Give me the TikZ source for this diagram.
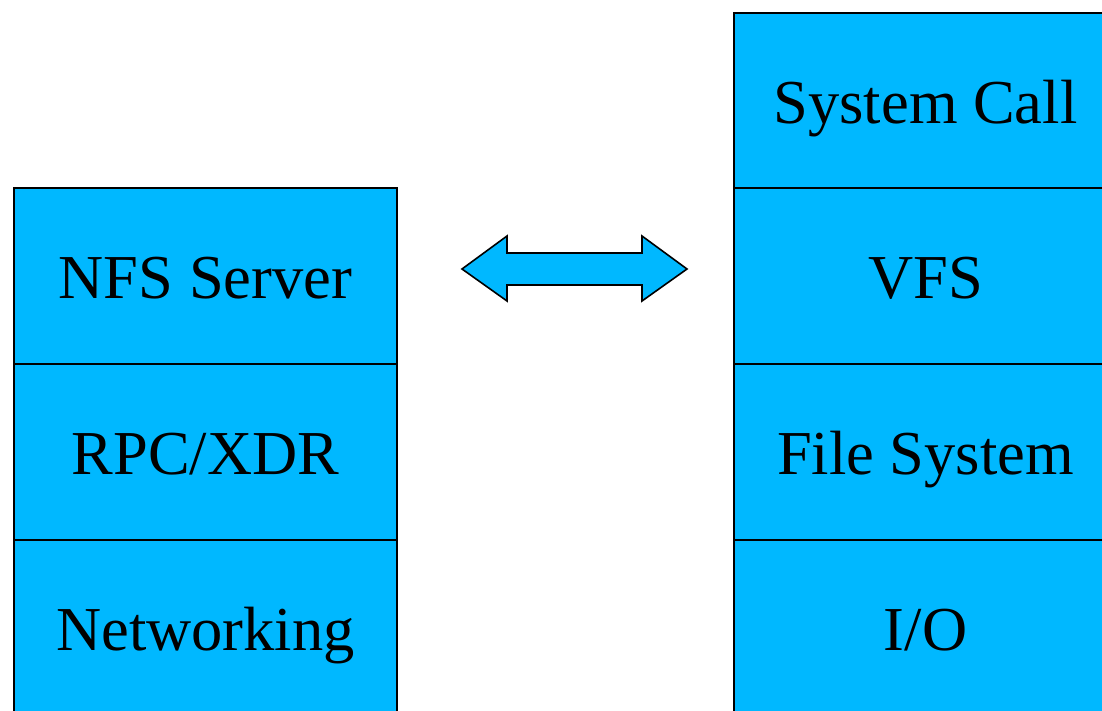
\documentclass[tikz,border=0pt]{standalone}
\usepackage{fontspec}
\setmainfont{Liberation Serif}
\definecolor{layerblue}{RGB}{0,184,255}
\tikzset{
  layer/.style={draw=black, line width=1.6pt, fill=layerblue, rectangle,
    minimum width=383pt, minimum height=176pt, inner sep=0pt,
    font=\fontsize{62.5pt}{70pt}\selectfont, text height=45pt, text depth=0pt},
  biarrow/.style={draw=black, line width=1.6pt, fill=layerblue, line join=miter}
}
\begin{document}
\begin{tikzpicture}[x=1pt,y=-1pt]
\useasboundingbox (0,0) rectangle (1102,711);
\clip (0,0) rectangle (1102,711);
% left stack
\node[layer] (nfs) at (205.5,276) {NFS Server};
\node[layer] (rpc) at (205.5,452) {RPC/XDR};
\node[layer] (net) at (205.5,628) {Networking};
% right stack
\node[layer] (sys) at (925.5,101) {System Call};
\node[layer] (vfs) at (925.5,276) {VFS};
\node[layer] (fs)  at (925.5,452) {File System};
\node[layer] (io)  at (925.5,628) {I/O};
% double arrow
\draw[biarrow] (462,269) -- (507,236) -- (507,253) -- (642,253) -- (642,236)
  -- (687,269) -- (642,301) -- (642,285) -- (507,285) -- (507,301) -- cycle;
\end{tikzpicture}
\end{document}
